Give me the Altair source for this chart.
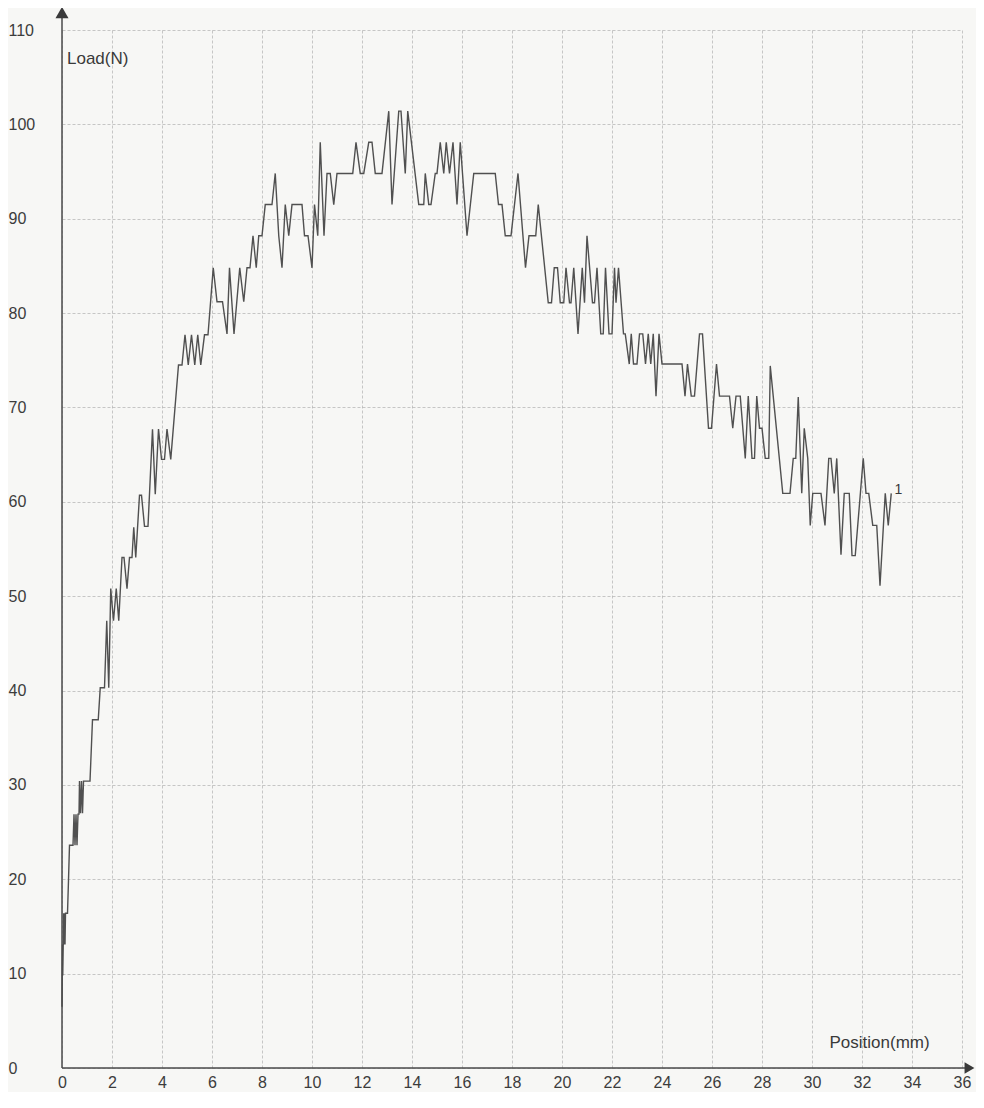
import altair as alt
import pandas as pd

# ---- data (Position in mm, Load in N) ----
positions = [
    0.00, 0.02, 0.03, 0.05, 0.06, 0.08, 0.10, 0.12, 0.14, 0.22, 0.26, 0.30, 0.44, 0.48, 0.52,
    0.56, 0.60, 0.64, 0.68, 0.70, 0.74, 0.78, 0.82, 0.86, 1.12, 1.22, 1.45, 1.53, 1.70, 1.79,
    1.87, 1.95, 2.06, 2.17, 2.27, 2.40, 2.48, 2.60, 2.70, 2.80, 2.87, 2.95, 3.10, 3.18, 3.30,
    3.44, 3.62, 3.73, 3.86, 3.98, 4.10, 4.20, 4.35, 4.66, 4.80, 4.92, 5.05, 5.18, 5.31, 5.43,
    5.55, 5.70, 5.84, 6.05, 6.20, 6.42, 6.60, 6.70, 6.88, 7.11, 7.27, 7.40, 7.52, 7.64, 7.77,
    7.87, 8.00, 8.13, 8.40, 8.53, 8.67, 8.80, 8.93, 9.07, 9.20, 9.60, 9.70, 9.84, 10.00, 10.10,
    10.23, 10.33, 10.48, 10.60, 10.73, 10.87, 11.00, 11.63, 11.76, 11.93, 12.07, 12.27, 12.40,
    12.53, 12.80, 13.07, 13.20, 13.47, 13.56, 13.73, 13.83, 14.27, 14.47, 14.53, 14.67, 14.76,
    14.93, 15.00, 15.13, 15.27, 15.37, 15.50, 15.64, 15.80, 15.93, 16.20, 16.47, 17.33, 17.46,
    17.60, 17.73, 17.96, 18.24, 18.54, 18.68, 18.95, 19.05, 19.45, 19.58, 19.69, 19.82, 19.93,
    20.07, 20.16, 20.30, 20.36, 20.47, 20.64, 20.81, 20.90, 21.00, 21.22, 21.30, 21.40, 21.55,
    21.65, 21.74, 21.88, 22.00, 22.10, 22.16, 22.26, 22.46, 22.53, 22.69, 22.77, 22.86, 23.00,
    23.10, 23.23, 23.34, 23.45, 23.55, 23.65, 23.76, 23.88, 24.00, 24.80, 24.92, 25.02, 25.17,
    25.30, 25.50, 25.62, 25.86, 25.98, 26.18, 26.30, 26.70, 26.83, 26.96, 27.13, 27.33, 27.45,
    27.60, 27.70, 27.79, 27.90, 28.00, 28.13, 28.27, 28.33, 28.83, 29.12, 29.25, 29.35, 29.45,
    29.59, 29.69, 29.83, 29.93, 30.03, 30.36, 30.52, 30.67, 30.76, 30.89, 30.99, 31.16, 31.29,
    31.49, 31.60, 31.73, 32.05, 32.16, 32.27, 32.43, 32.59, 32.72, 32.93, 33.05, 33.17,
]
loads = [
    6.5, 13.1, 9.8, 13.1, 16.4, 13.1, 16.4, 13.1, 16.4, 16.4, 19.9, 23.6, 23.6, 26.9, 23.6,
    26.9, 23.6, 26.9, 26.9, 30.4, 27.0, 30.4, 27.0, 30.4, 30.4, 36.9, 36.9, 40.3, 40.3, 47.4,
    40.3, 50.8, 47.4, 50.8, 47.4, 54.1, 54.1, 50.8, 54.1, 54.1, 57.3, 54.1, 60.7, 60.7, 57.4,
    57.4, 67.7, 60.8, 67.7, 64.5, 64.5, 67.7, 64.5, 74.5, 74.5, 77.7, 74.5, 77.7, 74.5, 77.7,
    74.5, 77.7, 77.7, 84.8, 81.2, 81.2, 77.8, 84.8, 77.8, 84.8, 81.2, 84.8, 84.8, 88.2, 84.8,
    88.2, 88.2, 91.5, 91.5, 94.8, 88.2, 84.8, 91.5, 88.2, 91.5, 91.5, 88.2, 88.2, 84.8, 91.5,
    88.2, 98.1, 88.2, 94.8, 94.8, 91.5, 94.8, 94.8, 98.1, 94.8, 94.8, 98.1, 98.1,
    94.8, 94.8, 101.4, 91.5, 101.4, 101.4, 94.8, 101.4, 91.5, 91.5, 94.8, 91.5, 91.5,
    94.8, 94.8, 98.1, 94.8, 98.1, 94.8, 98.1, 91.5, 98.1, 88.2, 94.8, 94.8, 91.5,
    91.5, 88.2, 88.2, 94.8, 84.8, 88.2, 88.2, 91.5, 81.1, 81.1, 84.8, 84.8, 81.1,
    81.1, 84.8, 81.1, 81.1, 84.8, 77.8, 84.8, 81.1, 88.2, 81.1, 81.1, 84.8, 77.8,
    77.8, 84.8, 77.8, 77.8, 84.8, 81.1, 84.8, 77.8, 77.8, 74.6, 77.8, 74.6, 74.6,
    77.8, 77.8, 74.6, 77.8, 74.6, 77.8, 71.2, 77.8, 74.6, 74.6, 71.2, 74.6, 71.2,
    71.2, 77.8, 77.8, 67.8, 67.8, 74.6, 71.2, 71.2, 67.8, 71.2, 71.2, 64.6, 71.2,
    64.6, 64.6, 71.2, 67.8, 67.8, 64.6, 64.6, 74.4, 60.9, 60.9, 64.6, 64.6, 71.1,
    60.9, 67.8, 64.6, 57.5, 60.9, 60.9, 57.5, 64.6, 64.6, 60.9, 64.6, 54.4, 60.9,
    60.9, 54.3, 54.3, 64.6, 60.9, 60.9, 57.5, 57.5, 51.1, 60.9, 57.5, 60.9,
]

x_ticks = list(range(0, 37, 2))
y_ticks = list(range(0, 111, 10))
X_MAX = 36
Y_MAX = 110

titles = ["Load(N)", "Position(mm)"]
title_x = [0.2, 30.7]
title_y = [106.9, 2.6]
curve_label = ["1"]
curve_label_x = [33.3]
curve_label_y = [61.3]

FONT = "Liberation Sans"
INK = "#3c3c3c"

df = pd.DataFrame({"pos": positions, "load": loads, "i": list(range(len(positions)))})

xs = alt.Scale(domain=[0, X_MAX], nice=False, zero=True)
ys = alt.Scale(domain=[0, Y_MAX], nice=False, zero=True)

grid_kw = dict(grid=True, gridDash=[3, 2], gridColor="#a4a4a4", gridOpacity=0.75,
               gridWidth=0.8, domain=False, ticks=False, tickSize=0, title=None,
               labelFont=FONT, labelFontSize=16, labelColor=INK)

line = alt.Chart(df).mark_line(color="#505050", strokeWidth=1.4).encode(
    x=alt.X("pos:Q", scale=xs,
            axis=alt.Axis(values=x_ticks, labelPadding=6, labelFlush=False, **grid_kw)),
    y=alt.Y("load:Q", scale=ys,
            axis=alt.Axis(values=y_ticks, labelAlign="left", labelPadding=54,
                          labelFlush=False, **grid_kw)),
    order="i:Q",
)

# axis lines with arrow heads
yaxis_df = pd.DataFrame({"x": [0], "y": [0], "y2": [Y_MAX + 1.3]})
xaxis_df = pd.DataFrame({"x": [0], "x2": [X_MAX + 0.2], "y": [0]})
y_rule = alt.Chart(yaxis_df).mark_rule(color="#4a4a4a", strokeWidth=1.5).encode(
    x=alt.X("x:Q", scale=xs), y=alt.Y("y:Q", scale=ys), y2="y2:Q")
x_rule = alt.Chart(xaxis_df).mark_rule(color="#4a4a4a", strokeWidth=1.5).encode(
    x=alt.X("x:Q", scale=xs), x2="x2:Q", y=alt.Y("y:Q", scale=ys))

up_df = pd.DataFrame({"x": [0], "y": [Y_MAX + 1.85]})
right_df = pd.DataFrame({"x": [X_MAX + 0.3], "y": [0]})
y_arrow = alt.Chart(up_df).mark_point(shape="triangle-up", filled=True, size=170,
                                      color="#3a3a3a", opacity=1).encode(
    x=alt.X("x:Q", scale=xs), y=alt.Y("y:Q", scale=ys))
x_arrow = alt.Chart(right_df).mark_point(shape="triangle-right", filled=True, size=130,
                                         color="#3a3a3a", opacity=1).encode(
    x=alt.X("x:Q", scale=xs), y=alt.Y("y:Q", scale=ys))

tdf = pd.DataFrame({"t": titles, "x": title_x, "y": title_y})
title_text = alt.Chart(tdf).mark_text(align="left", baseline="middle", font=FONT,
                                      fontSize=17, color="#3a3a3a").encode(
    x=alt.X("x:Q", scale=xs), y=alt.Y("y:Q", scale=ys), text="t:N")

ldf = pd.DataFrame({"t": curve_label, "x": curve_label_x, "y": curve_label_y})
label_text = alt.Chart(ldf).mark_text(align="left", baseline="middle", font=FONT,
                                      fontSize=14, color="#3a3a3a").encode(
    x=alt.X("x:Q", scale=xs), y=alt.Y("y:Q", scale=ys), text="t:N")

chart = alt.layer(line, y_rule, x_rule, y_arrow, x_arrow, title_text, label_text).properties(
    width=900,
    height=1038,
    padding={"left": 54, "top": 22, "right": 14, "bottom": 24},
    autosize=alt.AutoSizeParams(type="none"),
    background="#f7f7f5",
).configure_view(strokeWidth=0)

chart.save("out.html", embed_options={"renderer": "svg", "actions": False})
